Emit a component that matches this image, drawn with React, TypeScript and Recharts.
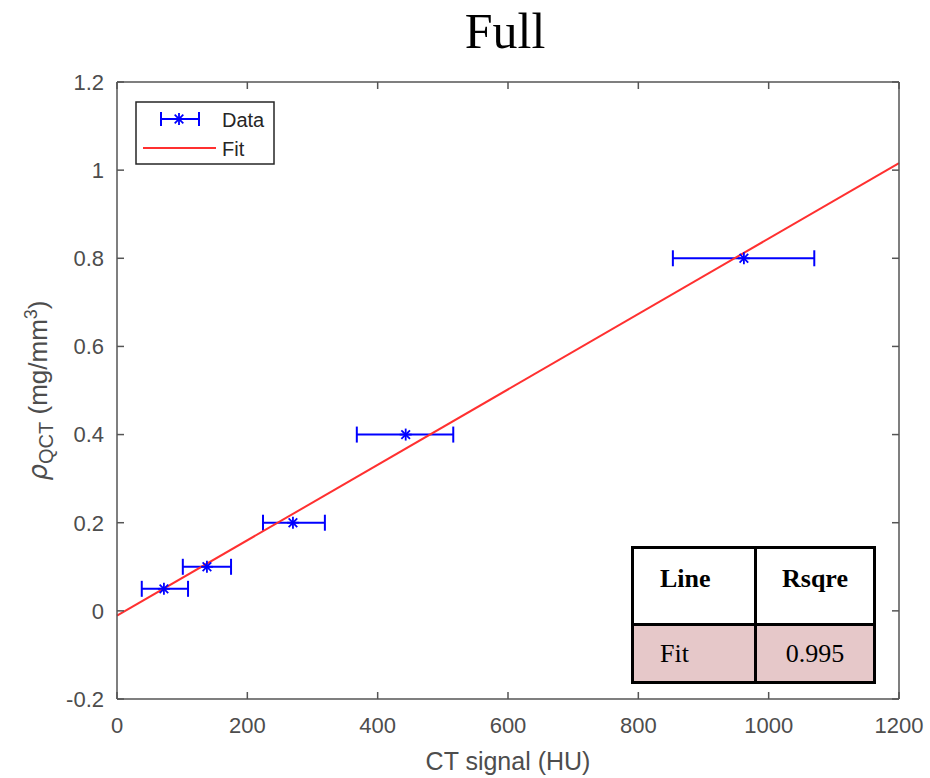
import React from "react";
import { ComposedChart, Scatter, Line, XAxis, YAxis, ErrorBar } from "recharts";

// calibration points
const ctSignal = [72, 138, 270, 443, 962];
const rhoQct = [0.05, 0.1, 0.2, 0.4, 0.8];
const ctLow = [38, 101, 224, 368, 853];
const ctHigh = [109, 175, 319, 516, 1070];

// fit line end points
const fitX = [0, 1200];
const fitY = [-0.011, 1.016];

const xTicks = [0, 200, 400, 600, 800, 1000, 1200];
const yTicks = [-0.2, 0, 0.2, 0.4, 0.6, 0.8, 1, 1.2];

const tableHead = ["Line", "Rsqre"];
const tableRow = ["Fit", "0.995"];

const points = ctSignal.map((x, i) => ({ x, y: rhoQct[i], err: [x - ctLow[i], ctHigh[i] - x] }));
const fitLine = fitX.map((x, i) => ({ x, y: fitY[i] }));

const AXIS = "#555555";
const TEXT = "#4d4d4d";
const SANS = "'Liberation Sans', Arial, sans-serif";
const SERIF = "'Liberation Serif', 'Times New Roman', serif";
const TICK_LEN = 7;
const X_MARGIN = 18;
const Y_MARGIN = 13;

function Asterisk({ cx, cy }: { cx?: number; cy?: number }) {
  if (cx == null || cy == null) return null;
  const r = 6;
  const d = 4.3;
  return (
    <g stroke="#0000ff" strokeWidth={1.8}>
      <line x1={cx} y1={cy - r} x2={cx} y2={cy + r} />
      <line x1={cx - r} y1={cy} x2={cx + r} y2={cy} />
      <line x1={cx - d} y1={cy - d} x2={cx + d} y2={cy + d} />
      <line x1={cx - d} y1={cy + d} x2={cx + d} y2={cy - d} />
    </g>
  );
}

// bottom tick: label below, tick mark pointing into the plot
function BottomTick(props: any) {
  const { x, y, payload } = props;
  const axisY = y - X_MARGIN;
  return (
    <g>
      <line x1={x} y1={axisY} x2={x} y2={axisY - TICK_LEN} stroke={AXIS} strokeWidth={1.5} />
      <text x={x} y={y} dy="0.71em" textAnchor="middle" fontFamily={SANS} fontSize={22} fill={TEXT}>
        {payload.value}
      </text>
    </g>
  );
}

function LeftTick(props: any) {
  const { x, y, payload } = props;
  const axisX = x + Y_MARGIN;
  return (
    <g>
      <line x1={axisX} y1={y} x2={axisX + TICK_LEN} y2={y} stroke={AXIS} strokeWidth={1.5} />
      <text x={x} y={y} dy="0.355em" textAnchor="end" fontFamily={SANS} fontSize={22} fill={TEXT}>
        {payload.value}
      </text>
    </g>
  );
}

function TopTick(props: any) {
  const { x, y } = props;
  return <line x1={x} y1={y} x2={x} y2={y + TICK_LEN} stroke={AXIS} strokeWidth={1.5} />;
}

function RightTick(props: any) {
  const { x, y } = props;
  return <line x1={x} y1={y} x2={x - TICK_LEN} y2={y} stroke={AXIS} strokeWidth={1.5} />;
}

function YLabel({ viewBox }: { viewBox?: { x: number; y: number; width: number; height: number } }) {
  const cy = viewBox ? viewBox.y + viewBox.height / 2 : 390;
  return (
    <text transform={`translate(47,${cy}) rotate(-90)`} textAnchor="middle" fontFamily={SANS} fontSize={26} fill={TEXT}>
      <tspan fontStyle="italic" fontFamily="'DejaVu Sans', sans-serif">ρ</tspan>
      <tspan fontSize={20} dy={6}>QCT</tspan>
      <tspan dy={-6}> (mg/mm</tspan>
      <tspan fontSize={18} dy={-10}>3</tspan>
      <tspan dy={10}>)</tspan>
    </text>
  );
}

function XLabel({ viewBox }: { viewBox?: { x: number; y: number; width: number; height: number } }) {
  const cx = viewBox ? viewBox.x + viewBox.width / 2 : 508;
  return (
    <text x={cx} y={770} textAnchor="middle" fontFamily={SANS} fontSize={25} fill={TEXT}>
      CT signal (HU)
    </text>
  );
}

export default function App() {
  return (
    <div style={{ position: "absolute", left: 0, top: 0, width: 930, height: 778, background: "#fff" }}>
      <div
        style={{
          position: "absolute",
          left: 0,
          top: 6,
          width: 1010,
          textAlign: "center",
          fontFamily: SERIF,
          fontSize: 50,
          lineHeight: "50px",
          color: "#000",
        }}
      >
        Full
      </div>

      <ComposedChart width={930} height={778} margin={{ top: 81, right: 30, bottom: 39, left: 57 }}>
        <XAxis
          dataKey="x"
          type="number"
          domain={[0, 1200]}
          ticks={xTicks}
          interval={0}
          height={40}
          tick={<BottomTick />}
          tickLine={false}
          tickSize={0}
          tickMargin={X_MARGIN}
          stroke={AXIS}
          strokeWidth={1.5}
          label={<XLabel />}
        />
        <XAxis
          xAxisId="top"
          orientation="top"
          dataKey="x"
          type="number"
          domain={[0, 1200]}
          ticks={xTicks}
          interval={0}
          height={1}
          tick={<TopTick />}
          tickLine={false}
          tickSize={0}
          tickMargin={0}
          stroke={AXIS}
          strokeWidth={1.5}
        />
        <YAxis
          type="number"
          domain={[-0.2, 1.2]}
          ticks={yTicks}
          interval={0}
          width={60}
          tick={<LeftTick />}
          tickLine={false}
          tickSize={0}
          tickMargin={Y_MARGIN}
          stroke={AXIS}
          strokeWidth={1.5}
          label={<YLabel />}
        />
        <YAxis
          yAxisId="right"
          orientation="right"
          type="number"
          domain={[-0.2, 1.2]}
          ticks={yTicks}
          interval={0}
          width={1}
          tick={<RightTick />}
          tickLine={false}
          tickSize={0}
          tickMargin={0}
          stroke={AXIS}
          strokeWidth={1.5}
        />
        <Scatter data={points} dataKey="y" shape={<Asterisk />} isAnimationActive={false}>
          <ErrorBar dataKey="err" direction="x" width={8} stroke="#0000ff" strokeWidth={2} isAnimationActive={false} />
        </Scatter>
        <Line
          xAxisId="top"
          yAxisId="right"
          data={fitLine}
          dataKey="y"
          type="linear"
          stroke="#ff3030"
          strokeWidth={2}
          dot={false}
          activeDot={false}
          isAnimationActive={false}
        />
      </ComposedChart>

      {/* legend */}
      <svg width={930} height={778} style={{ position: "absolute", left: 0, top: 0, pointerEvents: "none" }}>
        <rect x={136} y={102} width={138} height={62} fill="#fff" stroke="#262626" strokeWidth={1.5} />
        <g stroke="#0000ff" strokeWidth={2}>
          <line x1={161} y1={119} x2={199} y2={119} />
          <line x1={161} y1={112} x2={161} y2={126} />
          <line x1={199} y1={112} x2={199} y2={126} />
        </g>
        <Asterisk cx={179} cy={119} />
        <line x1={143} y1={148} x2={216} y2={148} stroke="#ff3030" strokeWidth={2} />
        <text x={222} y={127} fontFamily={SANS} fontSize={20} fill="#262626">Data</text>
        <text x={222} y={156} fontFamily={SANS} fontSize={20} fill="#262626">Fit</text>
      </svg>

      {/* Rsquare table */}
      <div
        style={{
          position: "absolute",
          left: 631,
          top: 546,
          width: 245,
          height: 138,
          boxSizing: "border-box",
          border: "3px solid #000",
          fontFamily: SERIF,
          fontSize: 26,
          lineHeight: "26px",
          color: "#000",
        }}
      >
        <div style={{ position: "absolute", left: 0, top: 0, width: 239, height: 74, background: "#fff", borderBottom: "3px solid #000" }} />
        <div style={{ position: "absolute", left: 0, top: 77, width: 239, height: 55, background: "#e6c8c9" }} />
        <div style={{ position: "absolute", left: 120, top: 0, width: 3, height: 132, background: "#000" }} />
        <div style={{ position: "absolute", left: 26, top: 17, fontWeight: "bold" }}>{tableHead[0]}</div>
        <div style={{ position: "absolute", left: 123, width: 116, top: 17, fontWeight: "bold", textAlign: "center" }}>{tableHead[1]}</div>
        <div style={{ position: "absolute", left: 26, top: 92 }}>{tableRow[0]}</div>
        <div style={{ position: "absolute", left: 123, width: 116, top: 92, textAlign: "center" }}>{tableRow[1]}</div>
      </div>
    </div>
  );
}
